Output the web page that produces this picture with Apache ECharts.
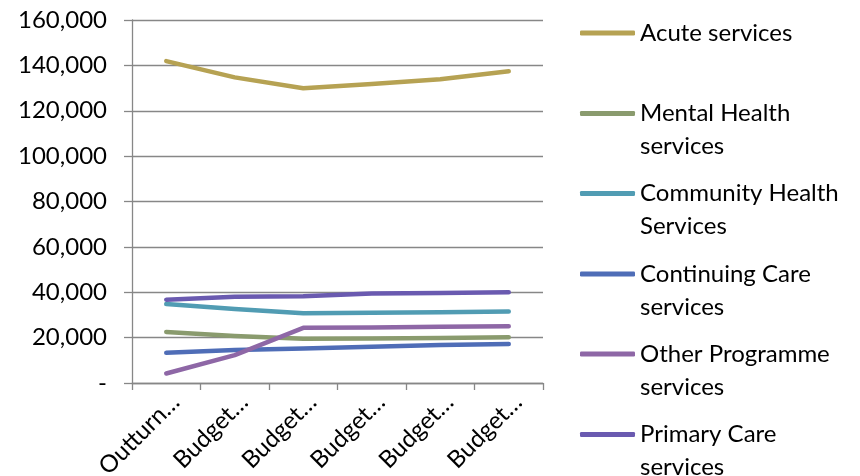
<!DOCTYPE html>
<html>
<head>
<meta charset="utf-8">
<script src="https://cdn.jsdelivr.net/npm/echarts@6/dist/echarts.min.js"></script>
<style>
html,body{margin:0;padding:0;background:#fff;}
#chart{width:860px;height:476px;}
</style>
</head>
<body>
<div id="chart"></div>
<script>
var categories = ['Outturn…', 'Budget…', 'Budget…', 'Budget…', 'Budget…', 'Budget…'];
var acuteServices = [141900, 134700, 129900, 131800, 133900, 137400];
var mentalHealthServices = [22500, 20700, 19500, 19600, 19800, 20200];
var communityHealthServices = [34800, 32600, 30700, 31000, 31200, 31500];
var continuingCareServices = [13300, 14500, 15200, 16000, 16800, 17200];
var otherProgrammeServices = [4200, 12300, 24300, 24500, 24800, 25000];
var primaryCareServices = [36700, 38000, 38200, 39500, 39700, 40000];
var yTicks = [0, 20000, 40000, 60000, 80000, 100000, 120000, 140000, 160000];

var seriesNames = ['Acute services', 'Mental Health services', 'Community Health Services',
  'Continuing Care services', 'Other Programme services', 'Primary Care services'];
var legendLines = [
  ['Acute services'],
  ['Mental Health', 'services'],
  ['Community Health', 'Services'],
  ['Continuing Care', 'services'],
  ['Other Programme', 'services'],
  ['Primary Care', 'services']
];
var seriesData = [acuteServices, mentalHealthServices, communityHealthServices,
  continuingCareServices, otherProgrammeServices, primaryCareServices];
var colors = ['#B6A253', '#8A9B6E', '#519CB3', '#4F6DB7', '#8E67A6', '#6A5AB0'];

var FONT = 'Lato';
var FS = 24;
var LH = 33;
var legendCenters = [37.5, 118, 198, 278.5, 358.5, 439];

var chart = echarts.init(document.getElementById('chart'), null, {renderer: 'canvas'});

var legends = seriesNames.map(function (name, i) {
  var lines = legendLines[i];
  var text, blockH;
  if (lines.length === 1) {
    text = '{t|' + lines[0] + '}';
    blockH = LH;
  } else {
    text = '{s| }\n{t|' + lines[0] + '}\n{t|' + lines[1] + '}';
    blockH = LH * 3;
  }
  return {
    data: [{name: name, icon: 'roundRect'}],
    orient: 'vertical',
    left: 580,
    top: legendCenters[i] - blockH / 2,
    padding: 0,
    itemWidth: 55,
    itemHeight: 5,
    selectedMode: false,
    formatter: function () { return text; },
    textStyle: {
      rich: {
        t: {fontFamily: FONT, fontSize: FS, lineHeight: LH, color: '#000'},
        s: {fontFamily: FONT, fontSize: FS, lineHeight: LH, color: '#000'}
      }
    }
  };
});

var option = {
  animation: false,
  color: colors,
  legend: legends,
  grid: {left: 132, right: 317, top: 20, bottom: 93, containLabel: false, outerBoundsMode: 'none'},
  xAxis: {
    type: 'category',
    data: categories,
    boundaryGap: true,
    axisLine: {lineStyle: {color: '#878787', width: 1.3}},
    axisTick: {show: true, length: 7, lineStyle: {color: '#878787', width: 1.3}},
    axisLabel: {
      interval: 0,
      rotate: 45,
      margin: 6,
      hideOverlap: false,
      fontFamily: FONT,
      fontSize: FS,
      color: '#000',
      formatter: function (v) { return '{s| }\n{t|' + v + '}'; },
      rich: {
        s: {fontFamily: FONT, fontSize: 10, lineHeight: 26},
        t: {fontFamily: FONT, fontSize: FS, lineHeight: 28, color: '#000'}
      }
    },
    splitLine: {show: false}
  },
  yAxis: {
    type: 'value',
    min: yTicks[0],
    max: yTicks[yTicks.length - 1],
    interval: yTicks[1] - yTicks[0],
    axisLine: {show: true, lineStyle: {color: '#878787', width: 1.3}},
    axisTick: {show: true, length: 8, lineStyle: {color: '#878787', width: 1.3}},
    axisLabel: {
      margin: 25,
      fontFamily: FONT,
      fontSize: FS,
      color: '#000',
      formatter: function (v) { return v === 0 ? '-' : v.toLocaleString('en-US'); }
    },
    splitLine: {show: true, lineStyle: {color: '#878787', width: 1.3}}
  },
  series: seriesNames.map(function (name, i) {
    return {
      name: name,
      type: 'line',
      data: seriesData[i],
      showSymbol: false,
      symbol: 'none',
      lineStyle: {width: 4.5, cap: 'round', join: 'round', color: colors[i]},
      itemStyle: {color: colors[i]}
    };
  })
};
chart.setOption(option);
</script>
</body>
</html>
